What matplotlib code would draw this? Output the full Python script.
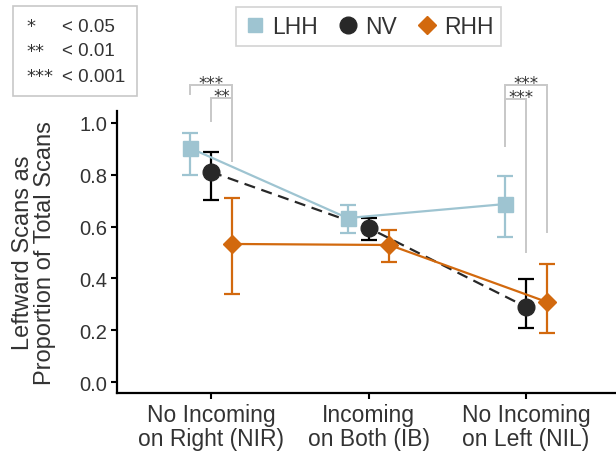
import matplotlib
matplotlib.use("Agg")
import matplotlib.pyplot as plt
from matplotlib.lines import Line2D
from matplotlib.patches import Rectangle
import numpy as np

plt.rcParams["font.family"] = ["Liberation Sans", "DejaVu Sans"]

categories = ["No Incoming\non Right (NIR)", "Incoming\non Both (IB)", "No Incoming\non Left (NIL)"]
groups = ["LHH", "NV", "RHH"]

lhh = [0.903, 0.633, 0.687]
lhh_lo = [0.800, 0.575, 0.560]
lhh_hi = [0.960, 0.685, 0.795]

nv = [0.811, 0.595, 0.290]
nv_lo = [0.703, 0.550, 0.208]
nv_hi = [0.888, 0.633, 0.398]

rhh = [0.533, 0.529, 0.309]
rhh_lo = [0.340, 0.465, 0.189]
rhh_hi = [0.710, 0.588, 0.456]

sig_key = [("*", "< 0.05"), ("**", "< 0.01"), ("***", "< 0.001")]

c_lhh = "#9ec4d1"
c_nv = "#282828"
c_rhh = "#d2690e"
c_grey = "#c8c8c8"
c_text = "#333333"

off = 0.133
x = np.arange(len(categories))

fig = plt.figure(figsize=(6.16, 4.52), dpi=100)
ax = fig.add_axes([117 / 616, 1 - 394 / 452, 499 / 616, 282 / 452])


def draw(vals, lo, hi, dx, color, ecolor, marker, ms, ls, dashes=None):
    xs = x + dx
    v = np.array(vals)
    yerr = [v - np.array(lo), np.array(hi) - v]
    ax.errorbar(xs, v, yerr=yerr, fmt="none", ecolor=ecolor, elinewidth=1.6,
                capsize=5.8, capthick=1.6, zorder=2)
    kw = dict(color=color, lw=1.6, ls=ls, zorder=3)
    if dashes:
        kw["dashes"] = dashes
    ax.plot(xs, v, **kw)
    ax.plot(xs, v, ls="none", marker=marker, ms=ms, color=color, mec=color, zorder=4)


draw(lhh, lhh_lo, lhh_hi, -off, c_lhh, c_lhh, "s", 10.8, "-")
draw(nv, nv_lo, nv_hi, 0, c_nv, "black", "o", 12, "--", dashes=(5, 3))
draw(rhh, rhh_lo, rhh_hi, off, c_rhh, c_rhh, "D", 9.2, "-")

ax.set_xlim(-0.597, 2.571)
ax.set_ylim(-0.042, 1.046)
ax.set_yticks([0, 0.2, 0.4, 0.6, 0.8, 1.0])
ax.set_yticklabels(["0.0", "0.2", "0.4", "0.6", "0.8", "1.0"])
ax.set_xticks(x)
ax.set_xticklabels(categories, linespacing=1.05)
ax.tick_params(axis="y", labelsize=14.5, colors="black", labelcolor=c_text, length=4, width=1.5, pad=3)
ax.tick_params(axis="x", labelsize=16.5, colors="black", labelcolor=c_text, length=4, width=1.5, pad=3)
for s in ["top", "right"]:
    ax.spines[s].set_visible(False)
for s in ["left", "bottom"]:
    ax.spines[s].set_linewidth(1.6)

ax.set_ylabel("Leftward Scans as\nProportion of Total Scans", fontsize=17, color=c_text, linespacing=1.0)
ax.yaxis.set_label_coords(-0.122, 0.5)

# brackets: (x0, x1, ytop, yleft, yright, label, labelx)
off_br = [
    (0 - off, 0 + off, 1.147, 1.112, 0.853, "***", 0.0),
    (0, 0 + off, 1.097, 1.008, 0.853, "**", 0.067),
    (2 - off, 2 + off, 1.147, 0.911, 0.579, "***", 2.0),
    (2 - off, 2, 1.093, 0.911, 0.502, "***", 1.97),
]
for x0, x1, yt, yl, yr, lab, lx in off_br:
    ax.plot([x0, x0, x1, x1], [yl, yt, yt, yr], color=c_grey, lw=1.4,
            clip_on=False, zorder=1, solid_joinstyle="miter")
    ax.text(lx, yt - 0.014, lab, ha="center", va="baseline", fontsize=12,
            color=c_text, family="DejaVu Sans", clip_on=False)

# legend
handles = [
    Line2D([], [], ls="none", marker="s", ms=10.5, color=c_lhh),
    Line2D([], [], ls="none", marker="o", ms=12, color=c_nv),
    Line2D([], [], ls="none", marker="D", ms=9.5, color=c_rhh),
]
leg = fig.legend(handles, groups, loc="upper center", bbox_to_anchor=(368.5 / 616, 1 - 8 / 452),
                 ncol=3, fontsize=16.5, frameon=True, fancybox=False, edgecolor=c_grey,
                 handletextpad=0.25, columnspacing=0.8, handlelength=1.0, borderpad=0.35,
                 borderaxespad=0)
leg.get_frame().set_linewidth(1.2)
for t in leg.get_texts():
    t.set_color(c_text)

# significance key
fig.patches.append(Rectangle((13 / 616, 1 - 97 / 452), 124 / 616, 90 / 452,
                             transform=fig.transFigure, fill=False, edgecolor=c_grey, lw=1.2))
for i, (st, pv) in enumerate(sig_key):
    yy = 1 - (27 + 25 * i) / 452
    fig.text(26 / 616, yy, st, ha="left", va="center", fontsize=13, color=c_text, family="DejaVu Sans")
    fig.text(62 / 616, yy, pv, ha="left", va="center", fontsize=13.5, color=c_text)

fig.savefig("out.png", dpi=100)
